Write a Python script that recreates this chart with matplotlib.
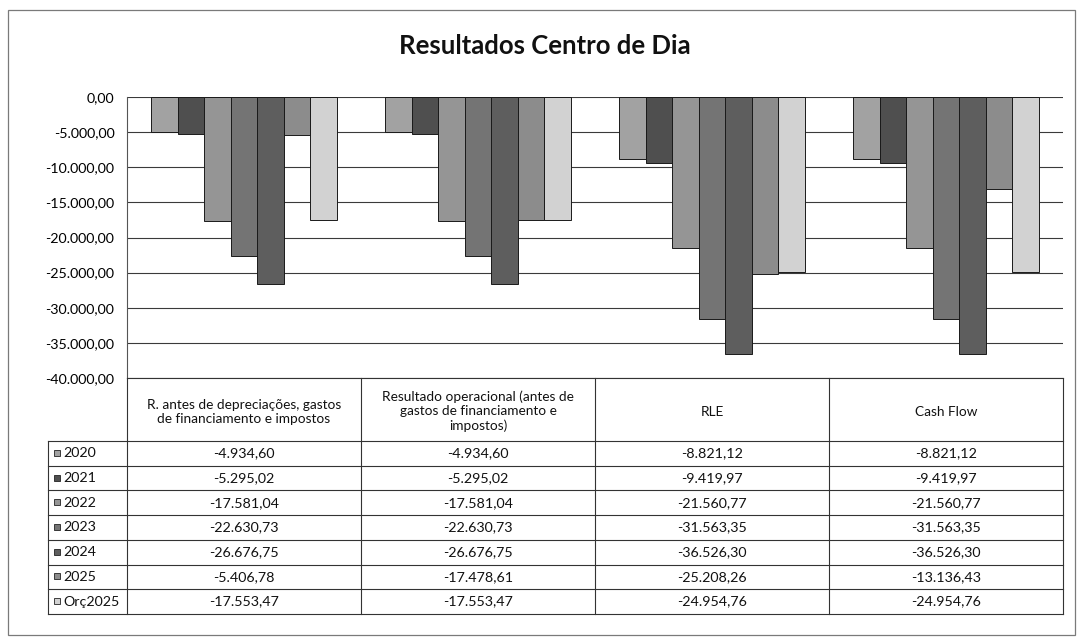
import matplotlib
matplotlib.use("Agg")
import matplotlib.pyplot as plt
from matplotlib.patches import Rectangle
from matplotlib.lines import Line2D
import numpy as np

plt.rcParams['font.family'] = ['Lato', 'DejaVu Sans']

categories = ["R. antes de depreciações, gastos\nde financiamento e impostos",
              "Resultado operacional (antes de\ngastos de financiamento e\nimpostos)",
              "RLE",
              "Cash Flow"]
series_names = ["2020", "2021", "2022", "2023", "2024", "2025", "Orç2025"]
v2020 = [-4934.60, -4934.60, -8821.12, -8821.12]
v2021 = [-5295.02, -5295.02, -9419.97, -9419.97]
v2022 = [-17581.04, -17581.04, -21560.77, -21560.77]
v2023 = [-22630.73, -22630.73, -31563.35, -31563.35]
v2024 = [-26676.75, -26676.75, -36526.30, -36526.30]
v2025 = [-5406.78, -17478.61, -25208.26, -13136.43]
vorc2025 = [-17553.47, -17553.47, -24954.76, -24954.76]
series_values = [v2020, v2021, v2022, v2023, v2024, v2025, vorc2025]
colors = ["#a2a2a2", "#4f4f4f", "#959595", "#747474", "#5e5e5e", "#8c8c8c", "#d2d2d2"]

W, H = 1080, 644
fig = plt.figure(figsize=(W / 100, H / 100), dpi=100)

def fx(x):
    return x / W

def fy(y):
    return 1 - y / H

# plot area in pixel coords
PL, PR, PT, PB = 127, 1063, 97, 378
ax = fig.add_axes([fx(PL), fy(PB), fx(PR) - fx(PL), fy(PT) - fy(PB)])
n = len(series_names)
bw = 0.113
x = np.arange(len(categories))
for i, (vals, c) in enumerate(zip(series_values, colors)):
    ax.bar(x + (i - (n - 1) / 2) * bw, vals, width=bw, color=c,
           edgecolor="#1a1a1a", linewidth=0.7, zorder=3)
ax.set_xlim(-0.5, len(categories) - 0.5)
ax.set_ylim(-40000, 0)
ax.set_yticks(np.arange(-40000, 1, 5000))

def fmt(v):
    s = f"{abs(v):,.2f}".replace(",", "X").replace(".", ",").replace("X", ".")
    return ("-" if v < 0 else "") + s

ax.set_yticklabels([fmt(t) for t in np.arange(-40000, 1, 5000)], fontsize=10.3)
ax.tick_params(axis='y', length=0, pad=9)
ax.set_xticks([])
ax.grid(axis='y', color="#3a3a3a", linewidth=0.8, zorder=0)
for s in ["top", "right", "bottom"]:
    ax.spines[s].set_visible(False)
ax.spines["left"].set_color("#555555")
ax.spines["left"].set_linewidth(0.8)

ov2 = fig.add_axes([0, 0, 1, 1], zorder=5)
ov2.set_xlim(0, W)
ov2.set_ylim(H, 0)
ov2.axis("off")
ov2.patch.set_alpha(0)

# outer frame
ov2.add_patch(Rectangle((8, 10), 1067, 625, fill=False, edgecolor="#7a7a7a", linewidth=0.9))

# title
ov2.text(545, 46, "Resultados Centro de Dia", ha="center", va="center",
         fontsize=18.5, fontweight="bold", color="#111111")

# table
colx = [PL + (PR - PL) * k / len(categories) for k in range(len(categories) + 1)]
head_top, head_bot = PB, 441
row_h = 24.7
lab_left = 48
lc = "#333333"
lw = 0.8
ov2.add_line(Line2D([PL, PR], [head_top, head_top], color=lc, lw=lw))
for k in range(len(categories) + 1):
    ov2.add_line(Line2D([colx[k], colx[k]], [head_top, head_bot + row_h * n], color=lc, lw=lw))
for k, cat in enumerate(categories):
    ov2.text((colx[k] + colx[k + 1]) / 2, (head_top + head_bot) / 2 + 2, cat,
             ha="center", va="center", fontsize=9.8, linespacing=1.2, color="#111111")
for r in range(n + 1):
    yy = head_bot + r * row_h
    ov2.add_line(Line2D([lab_left, PR], [yy, yy], color=lc, lw=lw))
ov2.add_line(Line2D([lab_left, lab_left], [head_bot, head_bot + n * row_h], color=lc, lw=lw))
for r, (name, vals, c) in enumerate(zip(series_names, series_values, colors)):
    yc = head_bot + (r + 0.5) * row_h
    ov2.add_patch(Rectangle((54, yc - 3.5), 6, 6, facecolor=c, edgecolor="#222222", lw=0.6))
    ov2.text(63, yc, name, ha="left", va="center", fontsize=10.3, color="#111111")
    for k, v in enumerate(vals):
        ov2.text((colx[k] + colx[k + 1]) / 2, yc, fmt(v), ha="center", va="center",
                 fontsize=10.3, color="#111111")

fig.savefig("out.png", dpi=100, facecolor="white")
